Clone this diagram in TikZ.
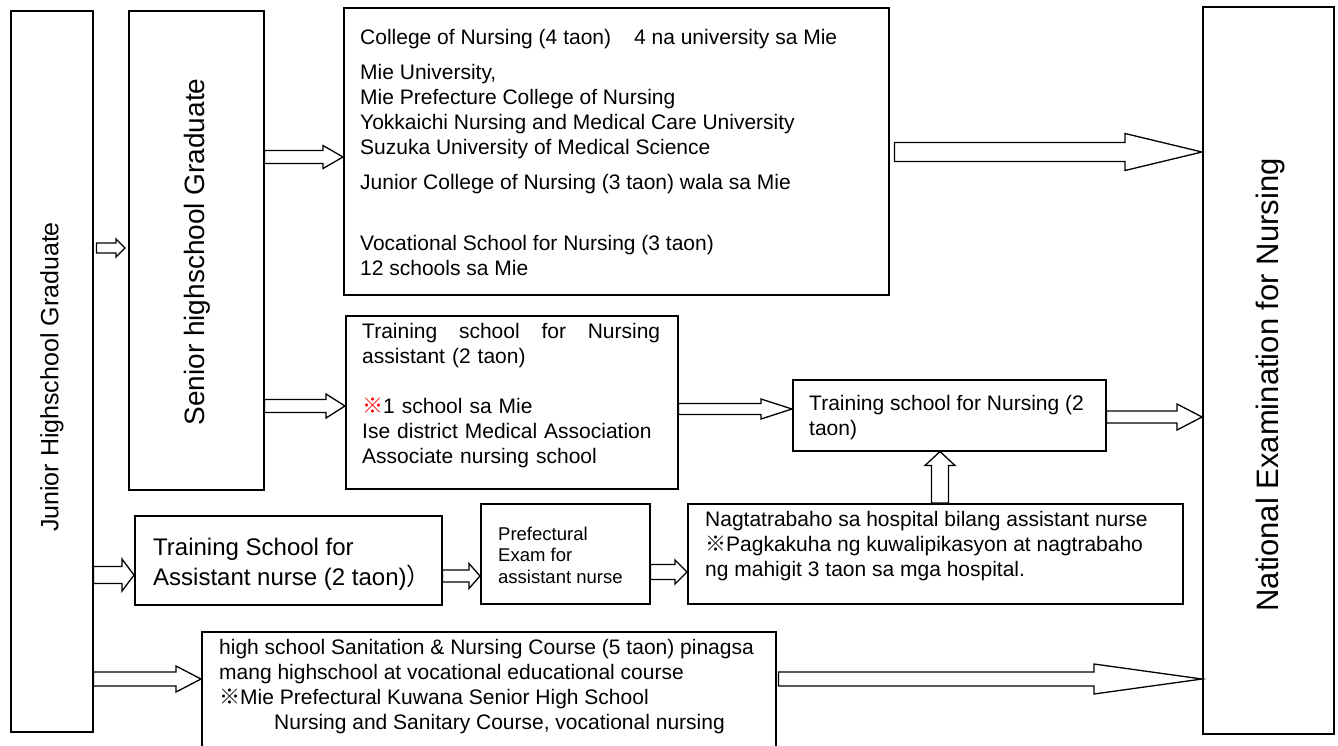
\documentclass[tikz,border=0pt]{standalone}
\usepackage{fontspec}
\setmainfont{Liberation Sans}
\newfontfamily\cjk{Noto Sans CJK JP}
\usetikzlibrary{calc}

\begin{document}
\begin{tikzpicture}[x = 1pt, y = -1pt,
    box/.style = {draw, line width = 1.5pt, anchor = north west, inner sep = 0pt},
    txt/.style = {anchor = north west, inner sep = 0pt, align = left, font = \fontsize{21}{25}\selectfont},
    side/.style = {rotate = 90, inner sep = 0pt, font = \fontsize{#1}{#1}\selectfont},
    fat/.style args = {#1/#2/#3}{draw, fill = white, line width = 1.3pt, to path = {
        let \p1 = (\tikztostart), \p2 = (\tikztotarget) in
        (\x1, \y2 + #1) -- (\x2 - #3, \y2 + #1) -- (\x2 - #3, \y2 + #2) -- (\x2, \y2)
        -- (\x2 - #3, \y2 - #2) -- (\x2 - #3, \y2 - #1) -- (\x1, \y2 - #1) -- cycle}},
    fatup/.style args = {#1/#2/#3}{draw, fill = white, line width = 1.3pt, to path = {
        let \p1 = (\tikztostart), \p2 = (\tikztotarget) in
        (\x2 - #1, \y1) -- (\x2 - #1, \y2 - #3) -- (\x2 - #2, \y2 - #3) -- (\x2, \y2)
        -- (\x2 + #2, \y2 - #3) -- (\x2 + #1, \y2 - #3) -- (\x2 + #1, \y1) -- cycle}}]
  \useasboundingbox (0, 0) rectangle (1338, 745);
  \clip (0, 0) rectangle (1338, 745);

  % boxes
  \node [box, minimum width = 82pt, minimum height = 721pt] (jun) at (10, 10) {};
  \node [box, minimum width = 135pt, minimum height = 479pt] (sen) at (128, 10) {};
  \node [box, minimum width = 545pt, minimum height = 287pt] (col) at (343, 7) {};
  \node [box, minimum width = 131pt, minimum height = 727pt] (nat) at (1202, 6) {};
  \node [box, minimum width = 332pt, minimum height = 173pt] (ta) at (345, 315) {};
  \node [box, minimum width = 313pt, minimum height = 71pt] (tn) at (792, 379) {};
  \node [box, minimum width = 307pt, minimum height = 89pt] (tsa) at (134, 515) {};
  \node [box, minimum width = 169pt, minimum height = 100pt] (pe) at (480, 503) {};
  \node [box, minimum width = 495pt, minimum height = 100pt] (ng) at (687, 503) {};
  \node [box, minimum width = 574pt, minimum height = 140pt] (hs) at (201, 631) {};

  % texts
  \node [side = 25] (jun-txt) at (52, 377) {Junior Highschool Graduate};
  \node [side = 28] (sen-txt) at (197, 252) {Senior highschool Graduate};
  \node [side = 31] (nat-txt) at (1270, 385) {National Examination for Nursing};
  \node [txt] (col-txt) at (360, 27) {\strut College of Nursing (4 taon)\hspace{23pt}4 na university sa Mie\\[10pt]
    Mie University,\\ Mie Prefecture College of Nursing\\ Yokkaichi Nursing and Medical Care University\\
    Suzuka University of Medical Science\\[10pt] Junior College of Nursing (3 taon) wala sa Mie\\[36pt]
    Vocational School for Nursing (3 taon)\\ 12 schools sa Mie};
  \node [txt, text width = 298pt] (ta-txt) at (362, 321) {\strut Training\hfill school\hfill for\hfill Nursing\\
    assistant (2 taon)\\[25pt] {\color{red}\cjk ※}1 school sa Mie\\ Ise district Medical Association\\
    Associate nursing school};
  \node [txt] (tn-txt) at (809, 393) {\strut Training school for Nursing (2\\ taon)};
  \node [txt, font = \fontsize{24}{28}\selectfont] (tsa-txt) at (153, 536) {\strut Training School for\\
    Assistant nurse (2 taon){\cjk ）}};
  \node [txt, font = \fontsize{18.5}{21.5}\selectfont] (pe-txt) at (498, 525) {\strut Prefectural\\ Exam for\\ assistant nurse};
  \node [txt] (ng-txt) at (705, 509) {\strut Nagtatrabaho sa hospital bilang assistant nurse\\
    {\cjk ※}Pagkakuha ng kuwalipikasyon at nagtrabaho\\ ng mahigit 3 taon sa mga hospital.};
  \node [txt] (hs-txt) at (219, 637) {\strut high school Sanitation \& Nursing Course (5 taon) pinagsa\\
    mang highschool at vocational educational course\\ {\cjk ※}Mie Prefectural Kuwana Senior High School\\
    \hspace*{55pt}Nursing and Sanitary Course, vocational nursing};

  % arrows
  \draw [fat = 5/9/9] ([xshift = 3pt]jun.east |- 0, 248) to ([xshift = -3pt]sen.west |- 0, 248);
  \draw [fat = 6.5/11.5/20] (sen.east |- 0, 157) to (col.west |- 0, 157);
  \draw [fat = 6.5/12/19] (sen.east |- 0, 406) to (ta.west |- 0, 406);
  \draw [fat = 9.5/18.5/77] ([xshift = 5pt]col.east |- 0, 152) to (nat.west |- 0, 152);
  \draw [fat = 5.5/10/31] (ta.east |- 0, 409) to (tn.west |- 0, 409);
  \draw [fat = 6/13/25] (tn.east |- 0, 417) to (nat.west |- 0, 417);
  \draw [fatup = 8.5/15/14] (ng.north -| 940, 0) to (tn.south -| 940, 0);
  \draw [fat = 8.5/16/12] (jun.east |- 0, 575) to (tsa.west |- 0, 575);
  \draw [fat = 6/12.5/11] (tsa.east |- 0, 576) to (pe.west |- 0, 576);
  \draw [fat = 7.5/12/12] (pe.east |- 0, 572) to (ng.west |- 0, 572);
  \draw [fat = 7/13/25] (jun.east |- 0, 679) to (hs.west |- 0, 679);
  \draw [fat = 7/15/108] ([xshift = 2pt]hs.east |- 0, 679) to (nat.west |- 0, 679);
\end{tikzpicture}
\end{document}
